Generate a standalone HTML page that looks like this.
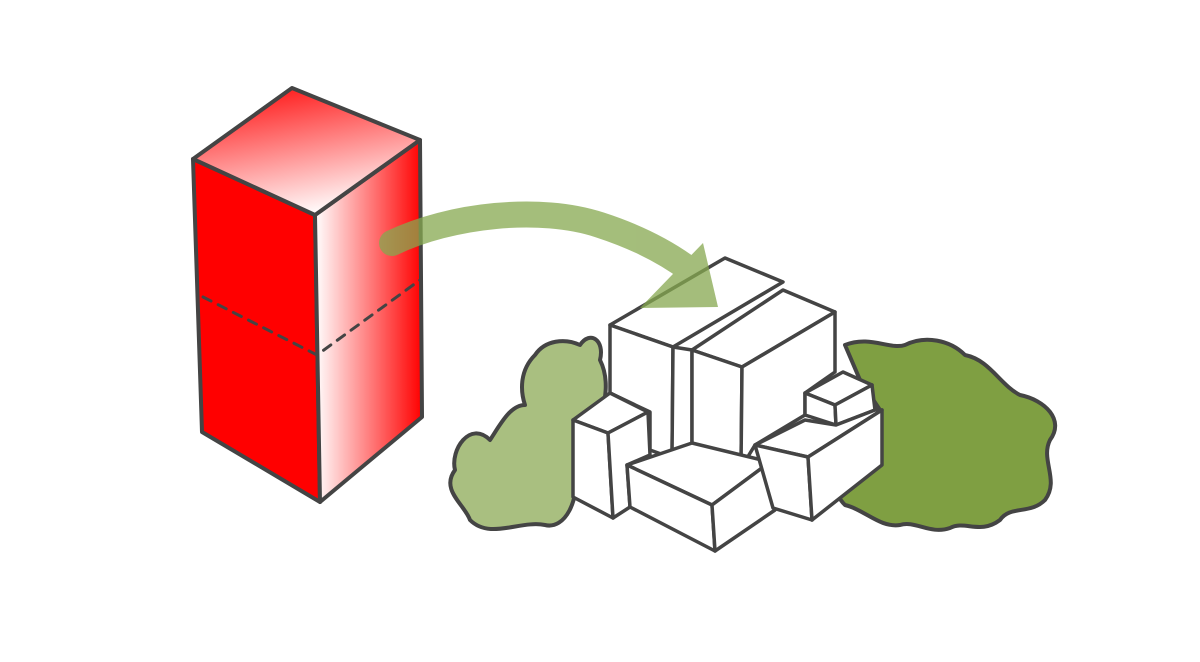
<!DOCTYPE html>
<html><head><meta charset="utf-8"><style>html,body{margin:0;padding:0;background:#fff}svg{display:block}</style></head>
<body>
<svg width="1200" height="662" viewBox="0 0 1200 662" xmlns="http://www.w3.org/2000/svg">
<defs>
<linearGradient id="side" x1="315" y1="0" x2="422" y2="0" gradientUnits="userSpaceOnUse">
<stop offset="0" stop-color="#fff"/><stop offset="1" stop-color="#f00"/></linearGradient>
<linearGradient id="top" x1="292" y1="88" x2="315" y2="215" gradientUnits="userSpaceOnUse">
<stop offset="0" stop-color="#f22"/><stop offset="1" stop-color="#fff"/></linearGradient>
</defs>
<g stroke="#444" stroke-width="4" stroke-linejoin="round" stroke-linecap="round">
<!-- red box -->
<path d="M193,159 L315,215 L320,502 L202,432 Z" fill="#f00"/>
<path d="M315,215 L420,140 L422,417 L320,502 Z" fill="url(#side)"/>
<path d="M193,159 L292,88 L420,140 L315,215 Z" fill="url(#top)"/>
<path d="M203,297 L317,355 L420,280" fill="none" stroke-width="3" stroke-dasharray="9,8"/>
<!-- bushes -->
<path d="M490,440 C470,420 450,450 455,470 C440,490 465,505 470,520 C490,540 520,520 545,525 C565,530 580,500 575,470 C590,455 600,440 600,425 C605,400 610,380 600,360 C605,340 590,330 580,345 C565,338 545,340 535,355 C520,370 520,390 525,405 C510,405 500,425 490,440 Z" fill="#a9bf80"/>
<path d="M845,345 C870,335 890,350 905,345 C925,335 950,340 965,355 C990,360 1000,385 1020,395 C1045,400 1065,420 1050,440 C1040,460 1060,480 1045,500 C1030,515 1010,505 1000,520 C980,535 965,520 950,528 C930,535 915,520 900,525 C880,528 865,510 845,505 C830,490 835,470 850,460 C840,445 855,435 870,435 L880,410 L860,380 Z" fill="#7f9f42"/>
<!-- buildings -->
<g fill="#fff" stroke-width="3.5">
<path d="M610,325 L725,258 L783,282 L673,347 Z"/>
<path d="M610,325 L673,347 L672,458 L650,450 L650,412 L610,393 Z"/>
<path d="M673,347 L692,350 L692,445 L672,458 Z"/>
<path d="M692,350 L783,290 L835,312 L742,367 Z"/>
<path d="M692,350 L742,367 L741,468 L692,445 Z"/>
<path d="M742,367 L835,312 L835,372 L805,393 L805,415 L755,445 L741,468 Z"/>
<path d="M573,420 L610,393 L648,412 L608,433 Z"/>
<path d="M573,420 L608,433 L613,518 L573,497 Z"/>
<path d="M608,433 L648,412 L650,455 L627,465 L630,507 L613,518 Z"/>
<path d="M627,465 L692,443 L770,462 L712,505 Z"/>
<path d="M627,465 L712,505 L715,551 L630,507 Z"/>
<path d="M712,505 L770,462 L775,510 L715,551 Z"/>
<path d="M805,393 L843,372 L872,385 L835,405 Z"/>
<path d="M805,393 L835,405 L836,425 L805,415 Z"/>
<path d="M835,405 L872,385 L875,410 L836,425 Z"/>
<path d="M755,445 L805,420 L836,425 L875,410 L882,410 L808,457 Z"/>
<path d="M755,445 L808,457 L812,520 L773,508 Z"/>
<path d="M808,457 L882,410 L882,465 L812,520 Z"/>
</g>
</g>
<!-- arrow -->
<g opacity="0.75" fill="#86a84f">
<path d="M392,243 C450,215 540,205 600,225 C640,238 670,255 690,270" fill="none" stroke="#86a84f" stroke-width="26" stroke-linecap="round"/>
<path d="M703,243 L718,307 L640,308 Z"/>
</g>
</svg>
</body></html>
